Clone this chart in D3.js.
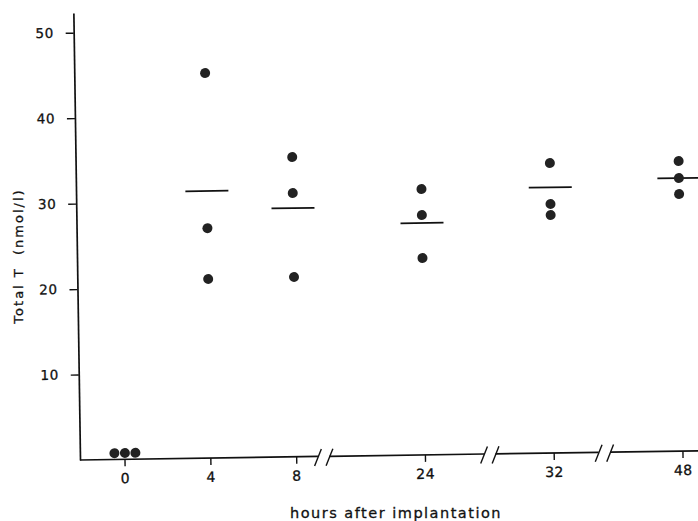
<!DOCTYPE html>
<html lang="en">
<head>
  <meta charset="utf-8">
  <script src="https://d3js.org/d3.v7.min.js"></script>
  <style>
    html, body { margin: 0; padding: 0; background: #fff; }
    svg { display: block; }
    text { font-family: "DejaVu Sans", Verdana, sans-serif; fill: #111; stroke: #111; stroke-width: 0.3px; }
  </style>
</head>
<body>
  <svg width="698" height="521"></svg>

  <script>
    const width = 698, height = 521;

    // hours after implantation, and where the axis is broken (after these hours)
    const hours = [0, 4, 8, 24, 32, 48];
    const breaksAfter = [8, 24, 32];

    // total T (nmol/l), one array per time point
    const obs0 = [0.74, 0.74, 0.74];
    const obs4 = [45.05, 26.9, 20.95];
    const obs8 = [35.07, 30.86, 21.04];
    const obs24 = [31.1, 28.06, 23.03];
    const obs32 = [33.92, 29.13, 27.84];
    const obs48 = [33.93, 31.94, 30.07];
    const groups = [obs0, obs4, obs8, obs24, obs32, obs48];

    const means = [null, 31.25, 29.1, 27.13, 31.08, 31.94];
    const yTicks = [10, 20, 30, 40, 50];

    // each break adds half a step of extra room on the axis
    const slots = hours.map((h, i) => i + 0.5 * breaksAfter.filter(b => b < h).length);
    const breakFrac = [0.21, 0.5, 0.39];
    const breakSlots = breaksAfter.map((b, j) => {
      const i = hours.indexOf(b);
      return slots[i] + (slots[i + 1] - slots[i]) * breakFrac[j];
    });

    const origin = { x: 80, y: 460 };
    const x = d3.scaleLinear().domain([0, 6.5]).range([125, 683]);
    const y = d3.scaleLinear().domain([0, 52.3]).range([origin.y, 13]);

    const svg = d3.select("svg");

    // the scanned figure sits a little askew
    const plot = svg.append("g")
      .attr("transform", `rotate(-0.85, ${origin.x}, ${origin.y})`);

    // y axis
    const yAxis = plot.append("g")
      .attr("transform", `translate(${origin.x},0)`)
      .call(d3.axisLeft(y).tickValues(yTicks).tickSize(8).tickSizeOuter(0).tickPadding(12));
    yAxis.select(".domain").attr("stroke", "#111").attr("stroke-width", 1.7);
    yAxis.selectAll(".tick line").attr("stroke", "#111").attr("stroke-width", 1.4);
    yAxis.selectAll(".tick text")
      .attr("font-family", null)
      .attr("font-size", null)
      .style("font-size", "13.5px")
      .style("letter-spacing", "0.5px")
      .attr("fill", "#111");

    // x axis, drawn by pieces so the breaks leave gaps
    const gapHalf = 5.75;
    const xEnd = 720;
    const pieces = [];
    let start = origin.x;
    breakSlots.forEach(s => {
      pieces.push([start, x(s) - gapHalf]);
      start = x(s) + gapHalf;
    });
    pieces.push([start, xEnd]);

    plot.append("g").selectAll("line.xaxis")
      .data(pieces)
      .enter().append("line")
      .attr("class", "xaxis")
      .attr("x1", d => d[0]).attr("x2", d => d[1])
      .attr("y1", origin.y).attr("y2", origin.y)
      .attr("stroke", "#111")
      .attr("stroke-width", 1.7);

    const breakMarks = plot.append("g").selectAll("g.break")
      .data(breakSlots)
      .enter().append("g")
      .attr("class", "break")
      .attr("transform", d => `translate(${x(d)},${origin.y + 1})`);
    [-gapHalf, gapHalf].forEach(off => {
      breakMarks.append("line")
        .attr("x1", off - 3.5).attr("y1", 8.5)
        .attr("x2", off + 3.5).attr("y2", -8.5)
        .attr("stroke", "#111")
        .attr("stroke-width", 1.4);
    });

    const xTicks = plot.append("g").selectAll("g.xtick")
      .data(hours)
      .enter().append("g")
      .attr("class", "xtick")
      .attr("transform", (d, i) => `translate(${x(slots[i])},${origin.y})`);
    xTicks.append("line")
      .attr("y1", 0).attr("y2", 7)
      .attr("stroke", "#111")
      .attr("stroke-width", 1.4);
    xTicks.append("text")
      .attr("y", 14)
      .attr("dy", "0.71em")
      .attr("text-anchor", "middle")
      .style("font-size", "14px")
      .style("letter-spacing", "0.5px")
      .text(d => d);

    // mean bars
    plot.append("g").selectAll("line.mean")
      .data(means.map((m, i) => ({ m, i })).filter(d => d.m !== null))
      .enter().append("line")
      .attr("class", "mean")
      .attr("x1", d => x(slots[d.i]) - 21.5)
      .attr("x2", d => x(slots[d.i]) + 21.5)
      .attr("y1", d => y(d.m)).attr("y2", d => y(d.m))
      .attr("stroke", "#111")
      .attr("stroke-width", 1.8);

    // individual values; equal values sit side by side
    const points = [];
    groups.forEach((vals, i) => {
      vals.forEach(v => {
        const same = vals.filter(w => w === v);
        const k = points.filter(p => p.i === i && p.v === v).length;
        points.push({ i, v, off: same.length > 1 ? (k - (same.length - 1) / 2) * 10.5 : 0 });
      });
    });

    plot.append("g").selectAll("circle.dot")
      .data(points)
      .enter().append("circle")
      .attr("class", "dot")
      .attr("cx", d => x(slots[d.i]) + d.off)
      .attr("cy", d => y(d.v))
      .attr("r", 5)
      .attr("fill", "#222");

    // axis titles
    svg.append("text")
      .attr("x", 396)
      .attr("y", 518)
      .attr("text-anchor", "middle")
      .style("font-size", "14.5px")
      .style("letter-spacing", "1.5px")
      .text("hours after implantation");

    svg.append("text")
      .attr("transform", "translate(23,256) rotate(-90)")
      .attr("text-anchor", "middle")
      .style("font-size", "13px")
      .style("letter-spacing", "2px")
      .style("white-space", "pre")
      .text("Total T  (nmol/l)");
  </script>
</body>
</html>
